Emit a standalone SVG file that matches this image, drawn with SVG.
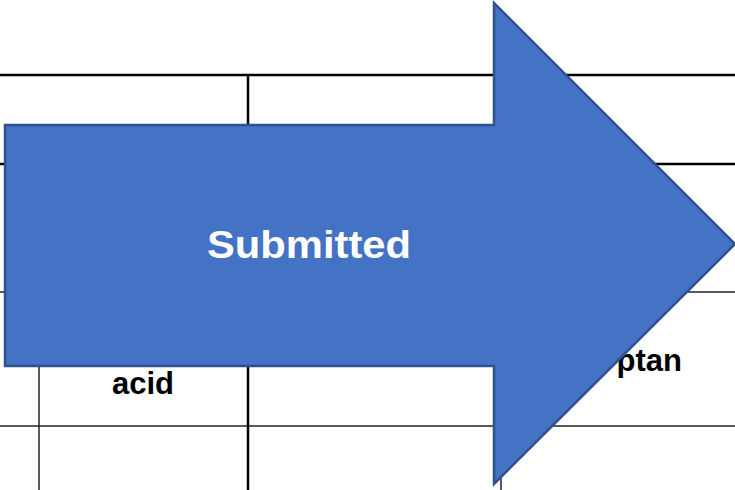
<svg xmlns="http://www.w3.org/2000/svg" width="735" height="490" viewBox="0 0 735 490">
<style>
.thick{stroke:#000;stroke-width:2.5;fill:none}
.thin{stroke:#222;stroke-width:1.5;fill:none}
.cell{font-family:"Liberation Sans",Arial,sans-serif;font-weight:bold;font-size:31px;fill:#000}
.lbl{font-family:"Liberation Sans",Arial,sans-serif;font-weight:bold;font-size:39px;fill:#fff}
</style>
<rect width="735" height="490" fill="#fff"/>
<g id="table">
<line class="thick" x1="0" y1="75" x2="735" y2="75"/>
<line class="thick" x1="0" y1="164" x2="735" y2="164"/>
<line class="thin" x1="0" y1="292" x2="735" y2="292"/>
<line class="thin" x1="0" y1="426" x2="735" y2="426"/>
<line class="thick" x1="248" y1="75" x2="248" y2="490"/>
<line class="thin" x1="39" y1="292" x2="39" y2="490"/>
<line class="thin" x1="501" y1="292" x2="501" y2="490"/>
<text class="cell" x="143" y="394" text-anchor="middle" textLength="62" lengthAdjust="spacingAndGlyphs">acid</text>
<text class="cell" x="682" y="371" text-anchor="end">ptan</text>
</g>
<g id="arrow">
<path d="M5,125 L494,125 L494,3 L735,244 L494,484 L494,366 L5,366 Z" fill="#4472C4" stroke="#2F528F" stroke-width="2.5" stroke-linejoin="miter"/>
<text class="lbl" x="309" y="258" text-anchor="middle" textLength="204" lengthAdjust="spacingAndGlyphs">Submitted</text>
</g>
</svg>
